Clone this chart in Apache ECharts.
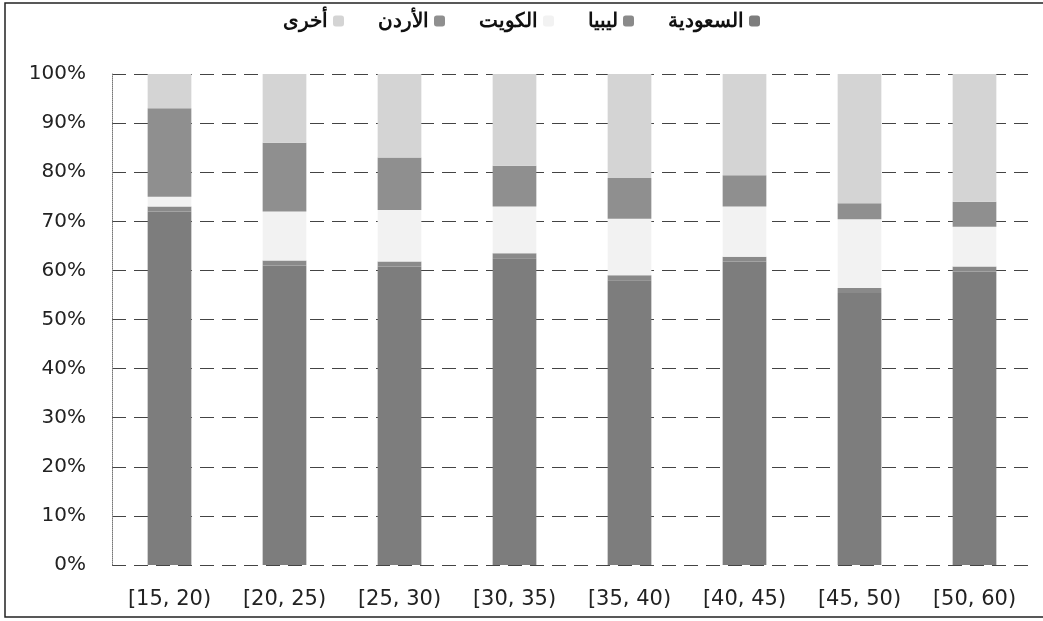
<!DOCTYPE html>
<html>
<head>
<meta charset="utf-8">
<script src="https://cdn.jsdelivr.net/npm/echarts@6/dist/echarts.min.js"></script>
<style>
  html, body { margin: 0; padding: 0; background: #fff; }
  #main { width: 1043px; height: 621px; }
</style>
</head>
<body>
<div id="main"></div>
<script>
// فئات العمر
var categories = ['[15, 20)', '[20, 25)', '[25, 30)', '[30, 35)', '[35, 40)', '[40, 45)', '[45, 50)', '[50, 60)'];
// النسب المئوية لكل دولة
var saudi  = [72, 61, 60.8, 62.5, 58, 61.8, 55.4, 59.8];
var libya  = [1, 1, 1, 1, 1, 1, 1, 1];
var kuwait = [2, 10, 10.5, 9.5, 11.5, 10.2, 14, 8.1];
var jordan = [18, 14, 10.7, 8.3, 8.3, 6.4, 3.3, 5.1];
var other  = [7, 14, 17, 18.7, 21.2, 20.6, 26.3, 26];
var yTicks = [0, 10, 20, 30, 40, 50, 60, 70, 80, 90, 100];

var chartDom = document.getElementById('main');
var myChart = echarts.init(chartDom);

function bar(name, data, color) {
  return {
    name: name,
    type: 'bar',
    stack: 'total',
    barWidth: '38%',
    data: data,
    itemStyle: { color: color }
  };
}

var option = {
  animation: false,
  textStyle: { fontFamily: 'DejaVu Sans' },
  graphic: [{
    type: 'rect',
    shape: { x: 5, y: 3, width: 1045, height: 614 },
    style: { fill: 'none', stroke: '#222', lineWidth: 1.5 }
  }],
  legend: {
    top: 6,
    left: 'center',
    align: 'right',
    itemWidth: 11,
    itemHeight: 11,
    itemGap: 34,
    data: ['أخرى', 'الأردن', 'الكويت', 'ليبيا', 'السعودية'],
    textStyle: { fontFamily: 'Noto Sans', fontWeight: 'bold', fontSize: 20, color: '#111' }
  },
  grid: { left: 112, right: 11, top: 74, bottom: 56 },
  xAxis: {
    type: 'category',
    data: categories,
    axisLine: { show: false },
    axisTick: { show: false },
    axisLabel: { fontSize: 21, color: '#222', margin: 24 }
  },
  yAxis: {
    type: 'value',
    min: 0,
    max: 100,
    interval: 10,
    axisLine: { show: true, lineStyle: { color: '#777', type: 'dotted' } },
    axisTick: { show: false },
    splitLine: { lineStyle: { color: '#444', type: [14, 8], width: 1 } },
    axisLabel: {
      fontSize: 20,
      color: '#222',
      margin: 26,
      formatter: function (v) { return yTicks.indexOf(v) >= 0 ? v + '%' : ''; }
    }
  },
  series: [
    bar('السعودية', saudi, '#7d7d7d'),
    bar('ليبيا', libya, '#8a8a8a'),
    bar('الكويت', kuwait, '#f2f2f2'),
    bar('الأردن', jordan, '#8f8f8f'),
    bar('أخرى', other, '#d4d4d4')
  ]
};
myChart.setOption(option);
</script>
</body>
</html>
